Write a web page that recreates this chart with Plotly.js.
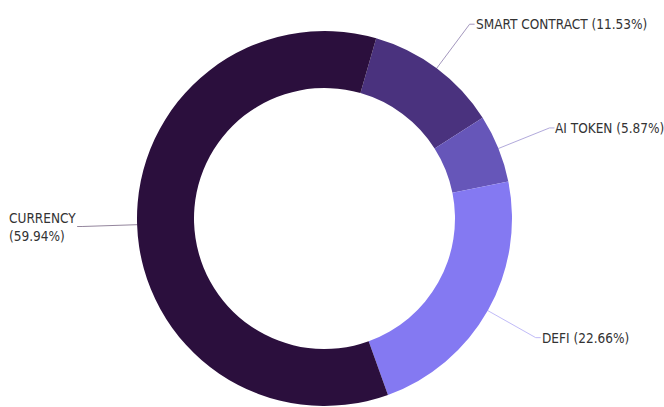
<!DOCTYPE html>
<html>
<head>
<meta charset="utf-8">
<script src="https://cdn.plot.ly/plotly-3.0.1.min.js"></script>
<style>html,body{margin:0;padding:0;background:#fff;}#chart{width:664px;height:407px;}</style>
</head>
<body>
<div id="chart"></div>
<script>
const labels = ['SMART CONTRACT', 'AI TOKEN', 'DEFI', 'CURRENCY'];
const values = [11.53, 5.87, 22.66, 59.94];
const colors = ['#4a327e', '#6656b9', '#8479f2', '#2b0f3d'];

const W = 664, H = 407;
const CX = 324.5, CY = 218.5, R = 187.5, HOLE = 0.696, ROT = 16;
const L1 = 55, L2 = 5;

const total = values.reduce((a, b) => a + b, 0);
const px = x => x / W, py = y => 1 - y / H;

const shapes = [], annotations = [];
let cum = 0;
values.forEach((v, i) => {
  const mid = (ROT + 360 * (cum + v / 2) / total) * Math.PI / 180;
  cum += v;
  const s = Math.sin(mid), c = Math.cos(mid);
  const x0 = CX + R * s, y0 = CY - R * c;
  const x1 = x0 + L1 * s, y1 = y0 - L1 * c;
  const right = s >= 0;
  const x2 = x1 + (right ? L2 : -L2), y2 = y1;
  shapes.push({
    type: 'path', xref: 'paper', yref: 'paper',
    path: `M ${px(x0)} ${py(y0)} L ${px(x1)} ${py(y1)} L ${px(x2)} ${py(y2)}`,
    line: {color: colors[i], width: 1}, opacity: 0.5
  });
  const pct = v.toFixed(2) + '%';
  annotations.push({
    xref: 'paper', yref: 'paper', x: px(x2 + (right ? -1 : 1)), y: py(y2),
    xanchor: right ? 'left' : 'right', yanchor: 'middle', align: 'left',
    showarrow: false,
    text: right ? `${labels[i]} (${pct})` : `${labels[i]}<br>(${pct})`,
    font: {family: '"DejaVu Sans Condensed", "DejaVu Sans", sans-serif', size: 13.5, color: '#333'}
  });
});

const data = [{
  type: 'pie', labels: labels, values: values, sort: false,
  direction: 'clockwise', rotation: ROT, hole: HOLE,
  marker: {colors: colors, line: {width: 0}},
  textinfo: 'none', hoverinfo: 'label+percent', showlegend: false,
  domain: {x: [(CX - R) / W, (CX + R) / W], y: [1 - (CY + R) / H, 1 - (CY - R) / H]}
}];

const layout = {
  width: W, height: H, margin: {l: 0, r: 0, t: 0, b: 0},
  paper_bgcolor: '#fff', plot_bgcolor: '#fff',
  showlegend: false, shapes: shapes, annotations: annotations
};

Plotly.newPlot('chart', data, layout, {displayModeBar: false, staticPlot: true});
</script>
</body>
</html>
